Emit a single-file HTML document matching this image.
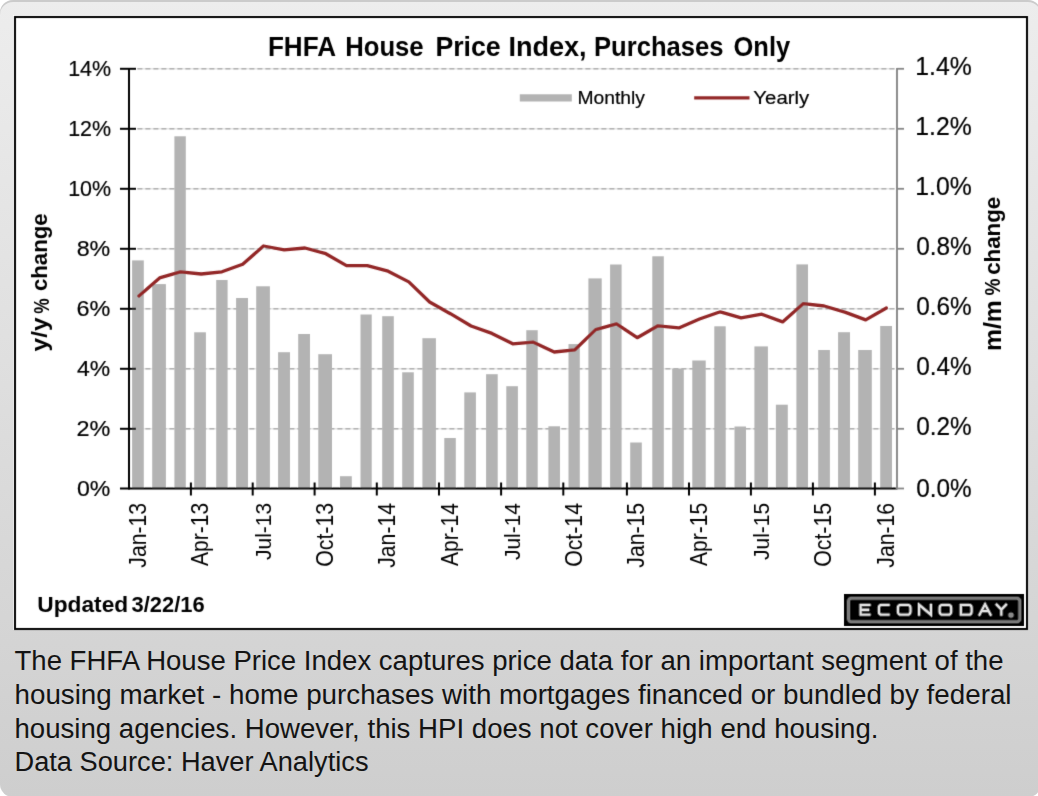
<!DOCTYPE html>
<html><head><meta charset="utf-8">
<style>
html,body{margin:0;padding:0;background:#fff;}
body{width:1038px;height:796px;position:relative;overflow:hidden;font-family:"Liberation Sans",sans-serif;}
#bg{position:absolute;left:0;top:0;width:1041px;height:797px;border-radius:13px;background:linear-gradient(#ededed,#cecece);box-shadow:inset 0 2px 0 #cbcbcb;}
#chart{position:absolute;left:13px;top:15px;width:1015px;height:615px;background:#fff;}
#box{position:absolute;left:14px;top:16px;width:1010px;height:610px;border:2px solid #000;}
svg{position:absolute;left:0;top:0;}
svg text{font-family:"Liberation Sans",sans-serif;fill:#000;}
.cap text{font-size:26.8px;fill:#141414;}
</style></head><body>
<div id="bg"></div>
<div id="chart"></div>
<svg width="1038" height="796" viewBox="0 0 1038 796">
<defs><filter id="bl" x="0" y="0" width="1038" height="796" filterUnits="userSpaceOnUse"><feConvolveMatrix order="3" kernelMatrix="0.0113 0.0838 0.0113 0.0838 0.6196 0.0838 0.0113 0.0838 0.0113" edgeMode="none" preserveAlpha="false"/></filter></defs>
<g filter="url(#bl)">
<rect x="15" y="17" width="1012" height="612" fill="none" stroke="#000" stroke-width="2"/>
<rect x="519.8" y="94.3" width="52" height="7.2" fill="#b3b3b3"/>
<line x1="694.2" y1="97.9" x2="749.5" y2="97.9" stroke="#932828" stroke-width="3.3"/>
<line x1="137" y1="68.8" x2="895" y2="68.8" stroke="#e6e6e6" stroke-width="1.6"/>
<line x1="137.4" y1="68.8" x2="895" y2="68.8" stroke="#b0b0b0" stroke-width="1.4" stroke-dasharray="5 3"/>
<line x1="137" y1="128.8" x2="895" y2="128.8" stroke="#e6e6e6" stroke-width="1.6"/>
<line x1="137.4" y1="128.8" x2="895" y2="128.8" stroke="#b0b0b0" stroke-width="1.4" stroke-dasharray="5 3"/>
<line x1="137" y1="188.8" x2="895" y2="188.8" stroke="#e6e6e6" stroke-width="1.6"/>
<line x1="137.4" y1="188.8" x2="895" y2="188.8" stroke="#b0b0b0" stroke-width="1.4" stroke-dasharray="5 3"/>
<line x1="137" y1="248.8" x2="895" y2="248.8" stroke="#e6e6e6" stroke-width="1.6"/>
<line x1="137.4" y1="248.8" x2="895" y2="248.8" stroke="#b0b0b0" stroke-width="1.4" stroke-dasharray="5 3"/>
<line x1="137" y1="308.8" x2="895" y2="308.8" stroke="#e6e6e6" stroke-width="1.6"/>
<line x1="137.4" y1="308.8" x2="895" y2="308.8" stroke="#b0b0b0" stroke-width="1.4" stroke-dasharray="5 3"/>
<line x1="137" y1="368.8" x2="895" y2="368.8" stroke="#e6e6e6" stroke-width="1.6"/>
<line x1="137.4" y1="368.8" x2="895" y2="368.8" stroke="#b0b0b0" stroke-width="1.4" stroke-dasharray="5 3"/>
<line x1="137" y1="428.8" x2="895" y2="428.8" stroke="#e6e6e6" stroke-width="1.6"/>
<line x1="137.4" y1="428.8" x2="895" y2="428.8" stroke="#b0b0b0" stroke-width="1.4" stroke-dasharray="5 3"/>
<rect x="132.1" y="260.4" width="11.7" height="228.1" fill="#b3b3b3"/>
<rect x="152.2" y="284.1" width="13.7" height="204.4" fill="#b3b3b3"/>
<rect x="174.4" y="136.3" width="11.4" height="352.2" fill="#b3b3b3"/>
<rect x="194.2" y="332.3" width="11.7" height="156.2" fill="#b3b3b3"/>
<rect x="216.2" y="280.0" width="11.4" height="208.5" fill="#b3b3b3"/>
<rect x="236.1" y="298.0" width="11.9" height="190.5" fill="#b3b3b3"/>
<rect x="256.2" y="286.3" width="13.7" height="202.2" fill="#b3b3b3"/>
<rect x="278.1" y="352.2" width="11.9" height="136.3" fill="#b3b3b3"/>
<rect x="298.2" y="334.0" width="11.8" height="154.5" fill="#b3b3b3"/>
<rect x="318.3" y="354.2" width="13.7" height="134.3" fill="#b3b3b3"/>
<rect x="340.0" y="476.2" width="11.8" height="12.3" fill="#b3b3b3"/>
<rect x="360.5" y="314.5" width="11.2" height="174.0" fill="#b3b3b3"/>
<rect x="382.2" y="316.2" width="11.6" height="172.3" fill="#b3b3b3"/>
<rect x="402.2" y="372.3" width="11.6" height="116.2" fill="#b3b3b3"/>
<rect x="422.4" y="338.2" width="13.5" height="150.3" fill="#b3b3b3"/>
<rect x="444.3" y="438.0" width="11.5" height="50.5" fill="#b3b3b3"/>
<rect x="464.3" y="392.4" width="11.6" height="96.1" fill="#b3b3b3"/>
<rect x="486.1" y="374.2" width="11.6" height="114.3" fill="#b3b3b3"/>
<rect x="506.3" y="386.2" width="11.6" height="102.3" fill="#b3b3b3"/>
<rect x="526.3" y="330.2" width="11.4" height="158.3" fill="#b3b3b3"/>
<rect x="548.4" y="426.3" width="11.6" height="62.2" fill="#b3b3b3"/>
<rect x="568.5" y="344.1" width="11.3" height="144.4" fill="#b3b3b3"/>
<rect x="588.4" y="278.4" width="13.3" height="210.1" fill="#b3b3b3"/>
<rect x="610.1" y="264.5" width="11.5" height="224.0" fill="#b3b3b3"/>
<rect x="630.2" y="442.5" width="11.6" height="46.0" fill="#b3b3b3"/>
<rect x="652.3" y="256.3" width="11.5" height="232.2" fill="#b3b3b3"/>
<rect x="672.2" y="368.7" width="11.6" height="119.8" fill="#b3b3b3"/>
<rect x="692.3" y="360.5" width="13.4" height="128.0" fill="#b3b3b3"/>
<rect x="714.3" y="326.3" width="11.4" height="162.2" fill="#b3b3b3"/>
<rect x="734.5" y="426.5" width="11.5" height="62.0" fill="#b3b3b3"/>
<rect x="754.4" y="346.4" width="13.5" height="142.1" fill="#b3b3b3"/>
<rect x="775.9" y="404.7" width="11.9" height="83.8" fill="#b3b3b3"/>
<rect x="796.4" y="264.4" width="11.6" height="224.1" fill="#b3b3b3"/>
<rect x="818.2" y="350.0" width="11.7" height="138.5" fill="#b3b3b3"/>
<rect x="838.1" y="332.2" width="11.9" height="156.3" fill="#b3b3b3"/>
<rect x="858.2" y="350.0" width="13.6" height="138.5" fill="#b3b3b3"/>
<rect x="880.2" y="326.0" width="11.8" height="162.5" fill="#b3b3b3"/>
<polyline points="138.9,296.0 159.6,277.9 180.4,271.8 201.2,274.0 221.9,271.8 242.7,264.2 263.5,246.0 284.2,249.9 305.0,248.0 325.8,253.7 346.5,265.6 367.3,265.6 388.1,271.2 408.8,281.9 429.6,302.0 450.4,313.7 471.1,326.0 491.9,333.4 512.7,343.8 533.4,342.2 554.2,352.0 574.9,349.8 595.7,329.6 616.5,323.9 637.2,337.7 658.0,325.8 678.8,327.9 699.5,319.0 720.3,311.8 741.1,317.8 761.8,314.2 782.6,321.9 803.4,303.6 824.1,306.0 844.9,312.1 865.7,319.9 886.4,308.0" fill="none" stroke="#932828" stroke-width="3.3" stroke-linejoin="round" stroke-linecap="round"/>
<line x1="129" y1="68" x2="129" y2="489.5" stroke="#000" stroke-width="2"/>
<line x1="120" y1="488.5" x2="897" y2="488.5" stroke="#000" stroke-width="2"/>
<line x1="120" y1="68.8" x2="136" y2="68.8" stroke="#000" stroke-width="2"/>
<line x1="120" y1="128.8" x2="136" y2="128.8" stroke="#000" stroke-width="2"/>
<line x1="120" y1="188.8" x2="136" y2="188.8" stroke="#000" stroke-width="2"/>
<line x1="120" y1="248.8" x2="136" y2="248.8" stroke="#000" stroke-width="2"/>
<line x1="120" y1="308.8" x2="136" y2="308.8" stroke="#000" stroke-width="2"/>
<line x1="120" y1="368.8" x2="136" y2="368.8" stroke="#000" stroke-width="2"/>
<line x1="120" y1="428.8" x2="136" y2="428.8" stroke="#000" stroke-width="2"/>
<line x1="190.9" y1="482.5" x2="190.9" y2="495.5" stroke="#000" stroke-width="2"/>
<line x1="252.7" y1="482.5" x2="252.7" y2="495.5" stroke="#000" stroke-width="2"/>
<line x1="314.6" y1="482.5" x2="314.6" y2="495.5" stroke="#000" stroke-width="2"/>
<line x1="376.8" y1="482.5" x2="376.8" y2="495.5" stroke="#000" stroke-width="2"/>
<line x1="439.0" y1="482.5" x2="439.0" y2="495.5" stroke="#000" stroke-width="2"/>
<line x1="501.1" y1="482.5" x2="501.1" y2="495.5" stroke="#000" stroke-width="2"/>
<line x1="563.3" y1="482.5" x2="563.3" y2="495.5" stroke="#000" stroke-width="2"/>
<line x1="626.9" y1="482.5" x2="626.9" y2="495.5" stroke="#000" stroke-width="2"/>
<line x1="689.0" y1="482.5" x2="689.0" y2="495.5" stroke="#000" stroke-width="2"/>
<line x1="750.9" y1="482.5" x2="750.9" y2="495.5" stroke="#000" stroke-width="2"/>
<line x1="812.9" y1="482.5" x2="812.9" y2="495.5" stroke="#000" stroke-width="2"/>
<line x1="874.9" y1="482.5" x2="874.9" y2="495.5" stroke="#000" stroke-width="2"/>
<line x1="897" y1="68" x2="897" y2="489.5" stroke="#868686" stroke-width="1.9"/>
<line x1="897" y1="68.8" x2="904" y2="68.8" stroke="#868686" stroke-width="1.8"/>
<line x1="897" y1="128.8" x2="904" y2="128.8" stroke="#868686" stroke-width="1.8"/>
<line x1="897" y1="188.8" x2="904" y2="188.8" stroke="#868686" stroke-width="1.8"/>
<line x1="897" y1="248.8" x2="904" y2="248.8" stroke="#868686" stroke-width="1.8"/>
<line x1="897" y1="308.8" x2="904" y2="308.8" stroke="#868686" stroke-width="1.8"/>
<line x1="897" y1="368.8" x2="904" y2="368.8" stroke="#868686" stroke-width="1.8"/>
<line x1="897" y1="428.8" x2="904" y2="428.8" stroke="#868686" stroke-width="1.8"/>
<line x1="897" y1="488.5" x2="904" y2="488.5" stroke="#868686" stroke-width="1.8"/>
<text x="267.94" y="56.00" font-size="28.14" font-weight="bold" textLength="68.04" lengthAdjust="spacingAndGlyphs">FHFA</text>
<text x="345.16" y="56.00" font-size="28.14" font-weight="bold" textLength="78.51" lengthAdjust="spacingAndGlyphs">House</text>
<text x="435.40" y="56.00" font-size="26.99" font-weight="bold" textLength="65.30" lengthAdjust="spacingAndGlyphs">Price</text>
<text x="508.38" y="56.00" font-size="26.99" font-weight="bold" textLength="78.19" lengthAdjust="spacingAndGlyphs">Index,</text>
<text x="594.06" y="56.00" font-size="26.99" font-weight="bold" textLength="129.46" lengthAdjust="spacingAndGlyphs">Purchases</text>
<text x="733.48" y="56.00" font-size="26.99" font-weight="bold" textLength="56.72" lengthAdjust="spacingAndGlyphs">Only</text>
<text x="68.20" y="75.80" font-size="22.86" stroke="#000" stroke-width="0.2" textLength="42.93" lengthAdjust="spacingAndGlyphs">14%</text>
<text x="68.20" y="135.80" font-size="22.86" stroke="#000" stroke-width="0.2" textLength="42.93" lengthAdjust="spacingAndGlyphs">12%</text>
<text x="68.20" y="195.80" font-size="22.86" stroke="#000" stroke-width="0.2" textLength="42.93" lengthAdjust="spacingAndGlyphs">10%</text>
<text x="76.67" y="255.80" font-size="22.86" stroke="#000" stroke-width="0.2" textLength="33.61" lengthAdjust="spacingAndGlyphs">8%</text>
<text x="76.43" y="315.80" font-size="22.86" stroke="#000" stroke-width="0.2" textLength="33.85" lengthAdjust="spacingAndGlyphs">6%</text>
<text x="77.14" y="375.80" font-size="22.86" stroke="#000" stroke-width="0.2" textLength="33.13" lengthAdjust="spacingAndGlyphs">4%</text>
<text x="76.43" y="435.80" font-size="22.86" stroke="#000" stroke-width="0.2" textLength="33.85" lengthAdjust="spacingAndGlyphs">2%</text>
<text x="76.91" y="495.50" font-size="22.86" stroke="#000" stroke-width="0.2" textLength="33.37" lengthAdjust="spacingAndGlyphs">0%</text>
<text x="915.27" y="74.80" font-size="24.86" stroke="#000" stroke-width="0.2" textLength="56.46" lengthAdjust="spacingAndGlyphs">1.4%</text>
<text x="915.27" y="134.80" font-size="24.86" stroke="#000" stroke-width="0.2" textLength="56.46" lengthAdjust="spacingAndGlyphs">1.2%</text>
<text x="915.27" y="194.80" font-size="24.86" stroke="#000" stroke-width="0.2" textLength="56.46" lengthAdjust="spacingAndGlyphs">1.0%</text>
<text x="916.27" y="254.80" font-size="24.86" stroke="#000" stroke-width="0.2" textLength="55.44" lengthAdjust="spacingAndGlyphs">0.8%</text>
<text x="916.27" y="314.80" font-size="24.86" stroke="#000" stroke-width="0.2" textLength="55.44" lengthAdjust="spacingAndGlyphs">0.6%</text>
<text x="916.27" y="374.80" font-size="24.86" stroke="#000" stroke-width="0.2" textLength="55.44" lengthAdjust="spacingAndGlyphs">0.4%</text>
<text x="916.27" y="434.80" font-size="24.86" stroke="#000" stroke-width="0.2" textLength="55.44" lengthAdjust="spacingAndGlyphs">0.2%</text>
<text x="916.27" y="496.60" font-size="24.86" stroke="#000" stroke-width="0.2" textLength="55.44" lengthAdjust="spacingAndGlyphs">0.0%</text>
<text transform="translate(146.08,567.71) rotate(-90)" font-size="23.57" textLength="64.88" lengthAdjust="spacingAndGlyphs">Jan-13</text>
<text transform="translate(208.38,566.00) rotate(-90)" font-size="23.57" textLength="63.16" lengthAdjust="spacingAndGlyphs">Apr-13</text>
<text transform="translate(270.67,560.01) rotate(-90)" font-size="22.60" textLength="57.17" lengthAdjust="spacingAndGlyphs">Jul-13</text>
<text transform="translate(332.97,566.85) rotate(-90)" font-size="23.57" textLength="64.02" lengthAdjust="spacingAndGlyphs">Oct-13</text>
<text transform="translate(395.26,567.71) rotate(-90)" font-size="23.57" textLength="64.66" lengthAdjust="spacingAndGlyphs">Jan-14</text>
<text transform="translate(457.56,566.00) rotate(-90)" font-size="23.57" textLength="62.95" lengthAdjust="spacingAndGlyphs">Apr-14</text>
<text transform="translate(519.85,560.01) rotate(-90)" font-size="22.60" textLength="56.96" lengthAdjust="spacingAndGlyphs">Jul-14</text>
<text transform="translate(582.14,566.85) rotate(-90)" font-size="23.57" textLength="63.81" lengthAdjust="spacingAndGlyphs">Oct-14</text>
<text transform="translate(644.44,567.71) rotate(-90)" font-size="23.91" textLength="64.88" lengthAdjust="spacingAndGlyphs">Jan-15</text>
<text transform="translate(706.73,566.00) rotate(-90)" font-size="23.91" textLength="63.16" lengthAdjust="spacingAndGlyphs">Apr-15</text>
<text transform="translate(769.03,560.01) rotate(-90)" font-size="22.60" textLength="57.17" lengthAdjust="spacingAndGlyphs">Jul-15</text>
<text transform="translate(831.32,566.85) rotate(-90)" font-size="23.57" textLength="64.02" lengthAdjust="spacingAndGlyphs">Oct-15</text>
<text transform="translate(893.62,567.71) rotate(-90)" font-size="23.57" textLength="64.88" lengthAdjust="spacingAndGlyphs">Jan-16</text>
<text x="577.46" y="103.70" font-size="18.77" stroke="#000" stroke-width="0.2" textLength="67.54" lengthAdjust="spacingAndGlyphs">Monthly</text>
<text x="753.39" y="103.60" font-size="18.49" stroke="#000" stroke-width="0.2" textLength="55.81" lengthAdjust="spacingAndGlyphs">Yearly</text>
<text transform="translate(47.46,351.40) rotate(-90)" font-size="22.55" font-weight="bold" textLength="33.81" lengthAdjust="spacingAndGlyphs">y/y</text>
<text transform="translate(48.58,313.65) rotate(-90)" font-size="21.97" font-weight="bold" textLength="15.38" lengthAdjust="spacingAndGlyphs">%</text>
<text transform="translate(47.31,291.07) rotate(-90)" font-size="22.34" font-weight="bold" textLength="77.65" lengthAdjust="spacingAndGlyphs">change</text>
<text transform="translate(1000.54,350.98) rotate(-90)" font-size="23.20" font-weight="bold" textLength="50.85" lengthAdjust="spacingAndGlyphs">m/m</text>
<text transform="translate(1000.38,295.58) rotate(-90)" font-size="21.97" font-weight="bold" textLength="16.95" lengthAdjust="spacingAndGlyphs">%</text>
<text transform="translate(999.69,274.87) rotate(-90)" font-size="22.45" font-weight="bold" textLength="78.15" lengthAdjust="spacingAndGlyphs">change</text>
<text x="37.34" y="611.60" font-size="21.51" font-weight="bold" textLength="90.84" lengthAdjust="spacingAndGlyphs">Updated</text>
<text x="131.56" y="611.60" font-size="21.51" font-weight="bold" textLength="73.03" lengthAdjust="spacingAndGlyphs">3/22/16</text>
<rect x="844" y="594" width="180" height="32" fill="#000"/>
<rect x="848.5" y="598.2" width="171.3" height="23.5" rx="3" fill="none" stroke="#7a7a7a" stroke-width="3"/>
<g fill="none" stroke="#e2e2e2" stroke-width="2.3">
<path d="M870.6,604.8 H860.6 V614.7 H870.6 M860.6,609.75 H869.2"/>
<path d="M889.7,604.8 H881.9 Q878.9,604.8 878.9,607.8 V611.7 Q878.9,614.7 881.9,614.7 H889.7"/>
<rect x="897.9" y="604.8" width="12.6" height="9.9" rx="3"/>
<path d="M919.1,615.8 V604.8 L930.9,614.7 V603.7"/>
<rect x="939.6" y="604.8" width="11.6" height="9.9" rx="3"/>
<path d="M960.8,604.8 H968.6 Q971.6,604.8 971.6,607.8 V611.7 Q971.6,614.7 968.6,614.7 H960.8 Z"/>
<path d="M979,615.8 L985.05,604.3 L991.1,615.8 M981.6,611.2 H988.5"/>
<path d="M995.9,603.9 L1001.35,609.6 L1006.8,603.9 M1001.35,609.6 V615.8"/>
</g>
<circle cx="1011" cy="615.1" r="2.7" fill="#8a8a8a"/>
</g>
<g class="cap">
<text x="14.5" y="669.9" textLength="989" lengthAdjust="spacingAndGlyphs">The FHFA House Price Index captures price data for an important segment of the</text>
<text x="14.5" y="703.6" textLength="997" lengthAdjust="spacingAndGlyphs">housing market - home purchases with mortgages financed or bundled by federal</text>
<text x="14.5" y="737.5" textLength="864" lengthAdjust="spacingAndGlyphs">housing agencies. However, this HPI does not cover high end housing.</text>
<text x="14.5" y="771.4" textLength="354" lengthAdjust="spacingAndGlyphs">Data Source: Haver Analytics</text>
</g>
</svg>
</body></html>
